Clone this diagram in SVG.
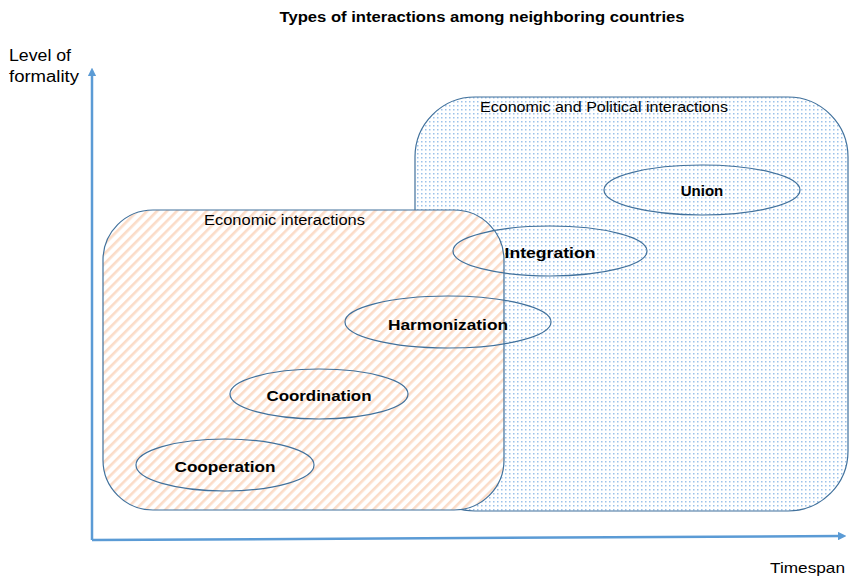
<svg xmlns="http://www.w3.org/2000/svg" width="850" height="578" viewBox="0 0 850 578">
<style>
.t{font-family:"Liberation Sans","Open Sans",sans-serif;fill:#000}
.b{font-weight:bold;font-size:15px}
.n{font-size:14px}
.region{stroke:#41719c;stroke-width:1.2}
.oval{fill:none;stroke:#41719c;stroke-width:1.2}
.axis{stroke:#5b9bd5;stroke-width:2.5;fill:none}
</style>
<defs>
<pattern id="dots" width="4" height="4" patternUnits="userSpaceOnUse">
<rect width="4" height="4" fill="#ffffff"/>
<rect x="1" y="1" width="1.5" height="1.5" fill="#9cc2ea"/>
</pattern>
<pattern id="stripes" width="7" height="7" patternUnits="userSpaceOnUse" patternTransform="rotate(45)">
<rect width="7" height="7" fill="#ffffff"/>
<rect x="0" y="0" width="2.6" height="7" fill="#fbdcc8"/>
</pattern>
<marker id="arr" viewBox="0 0 10 10" refX="5" refY="5" markerWidth="3.5" markerHeight="3.5" orient="auto">
<path d="M0,0 L10,5 L0,10 z" fill="#5b9bd5"/>
</marker>
</defs>
<rect width="850" height="578" fill="#ffffff"/>
<text class="t" x="482" y="22" font-size="14" font-weight="bold" text-anchor="middle" textLength="405" lengthAdjust="spacingAndGlyphs">Types of interactions among neighboring countries</text>
<g id="connectors">
<line class="axis" x1="92" y1="540" x2="92" y2="72" marker-end="url(#arr)"/>
<line class="axis" x1="92" y1="540" x2="842" y2="536" marker-end="url(#arr)"/>
</g>
<text class="t" x="9" y="61" font-size="16" textLength="62" lengthAdjust="spacingAndGlyphs">Level of</text>
<text class="t" x="9" y="82" font-size="16" textLength="70" lengthAdjust="spacingAndGlyphs">formality</text>
<text class="t" x="770" y="573" font-size="15" textLength="75" lengthAdjust="spacingAndGlyphs">Timespan</text>
<g id="political">
<rect class="region" x="415" y="97" width="433" height="414" rx="60" ry="60" fill="url(#dots)"/>
<text class="t n" x="480" y="112" textLength="248" lengthAdjust="spacingAndGlyphs">Economic and Political interactions</text>
</g>
<g id="economic">
<rect class="region" x="103" y="210" width="401" height="300" rx="50" ry="50" fill="url(#stripes)"/>
<text class="t n" x="204" y="225" textLength="161" lengthAdjust="spacingAndGlyphs">Economic interactions</text>
</g>
<g id="union">
<ellipse class="oval" cx="702" cy="190" rx="98" ry="25"/>
<text class="t b" x="702" y="196" text-anchor="middle">Union</text>
</g>
<g id="integration">
<ellipse class="oval" cx="550" cy="251" rx="97" ry="25"/>
<text class="t b" x="550" y="258" text-anchor="middle" textLength="91" lengthAdjust="spacingAndGlyphs">Integration</text>
</g>
<g id="harmonization">
<ellipse class="oval" cx="448" cy="322" rx="103" ry="26"/>
<text class="t b" x="448" y="330" text-anchor="middle" textLength="120" lengthAdjust="spacingAndGlyphs">Harmonization</text>
</g>
<g id="coordination">
<ellipse class="oval" cx="319" cy="394" rx="89" ry="25"/>
<text class="t b" x="319" y="401" text-anchor="middle" textLength="105" lengthAdjust="spacingAndGlyphs">Coordination</text>
</g>
<g id="cooperation">
<ellipse class="oval" cx="225" cy="465" rx="89" ry="26"/>
<text class="t b" x="225" y="472" text-anchor="middle" textLength="101" lengthAdjust="spacingAndGlyphs">Cooperation</text>
</g>
</svg>
